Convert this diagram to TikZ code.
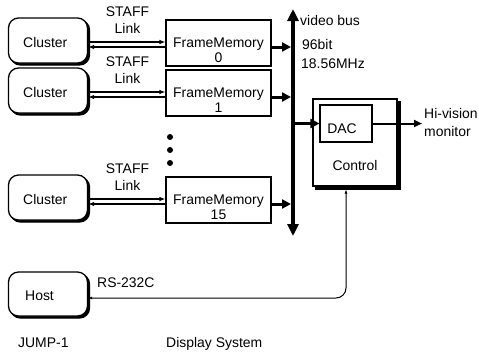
\documentclass[tikz,border=0pt]{standalone}
\usepackage{fontspec}
\setmainfont{Liberation Sans}
\usetikzlibrary{arrows.meta,shadows}
\begin{document}
\begin{tikzpicture}[x=1bp,y=-1bp,
  lbl/.style={font=\fontsize{14}{16}\selectfont, inner sep=0pt, anchor=base west},
  clus/.style={draw, line width=1.3bp, rounded corners=10bp, fill=white, inner sep=0pt,
    minimum width=79bp, minimum height=45bp,
    general shadow={shadow xshift=2bp, shadow yshift=-2bp, fill=black, draw=black, line width=1.3bp}},
  fmbox/.style={draw, line width=1.1bp, fill=white, inner sep=0pt, minimum width=105bp, minimum height=46bp},
  ctrlbox/.style={draw, line width=1.1bp, fill=white, inner sep=0pt, minimum width=84bp, minimum height=87bp,
    general shadow={shadow xshift=3bp, shadow yshift=-3bp, fill=black, draw=black}},
  dacbox/.style={draw, line width=1.1bp, fill=white, inner sep=0pt, minimum width=52bp, minimum height=37bp},
  link/.style={line width=1.4bp, -{Latex[length=6bp,width=4.5bp]}},
  fat/.style={line width=3bp, -{Triangle[length=9bp,width=9bp]}},
  busline/.style={line width=4bp, {Triangle[length=12bp,width=11bp]}-{Triangle[length=12bp,width=11bp]}},
  outline/.style={line width=2bp, -{Triangle[length=8bp,width=7bp]}},
  rsline/.style={line width=1bp, rounded corners=10bp, {Latex[length=4bp,width=3bp]}-{Latex[length=4bp,width=3bp]}},
]
\useasboundingbox (0,0) rectangle (479,353);

% bus
\coordinate (busT) at (293,9);
\coordinate (busB) at (293,236);
\draw[busline] (busB) -- (busT);

\foreach \n/\r in {0/0,1/50,15/157}{
  \node[clus] (c\n) at (48,40.5+\r) {};
  \node[lbl] at (23,47+\r) {Cluster};
  \node[fmbox] (f\n) at (218.5,43+\r) {};
  \node[lbl,anchor=base] at (218.5,47+\r) {FrameMemory};
  \node[lbl,anchor=base] at (218.5,62+\r) {\n};
  \node[lbl,anchor=base] at (127.5,16+\r) {STAFF};
  \node[lbl,anchor=base] at (127.5,33+\r) {Link};
  \coordinate (up\n) at (0,42+\r);
  \coordinate (dn\n) at (0,47+\r);
  \draw[link] (c\n.east |- up\n) -- (f\n.west |- up\n);
  \draw[link] (f\n.west |- dn\n) -- (c\n.east |- dn\n);
  \draw[fat,shorten >=2bp] (f\n.east |- dn\n) -- (busT |- dn\n);
}

% dots
\fill (170,137) circle (3bp);
\fill (170,150) circle (3bp);
\fill (170,163) circle (3bp);

% bus labels
\node[lbl] at (300,25) {video bus};
\node[lbl] at (302,49) {96bit};
\node[lbl] at (301,68) {18.56MHz};

% control and DAC
\node[ctrlbox] (ctl) at (355,142.5) {};
\node[dacbox] (dac) at (346,123.5) {};
\node[lbl,anchor=base] at (342,133) {DAC};
\node[lbl,anchor=base] at (355,170) {Control};
\draw[fat,shorten <=2bp] (busT |- dac.west) -- (dac.west);
\coordinate (mon) at (422,123.5);
\draw[outline] (dac.east) -- (mon);
\node[lbl] at (424,118) {Hi-vision};
\node[lbl] at (424,136) {monitor};

% host
\node[clus, minimum height=44bp] (host) at (48,294) {};
\node[lbl] at (25,300) {Host};
\coordinate (rsc) at (346,298);
\draw[rsline] (host.east |- rsc) -- (rsc) -- ([yshift=-3bp]rsc |- ctl.south);
\node[lbl] at (97,287) {RS-232C};

% captions
\node[lbl] at (18,347) {JUMP-1};
\node[lbl] at (166,347) {Display System};
\end{tikzpicture}
\end{document}
